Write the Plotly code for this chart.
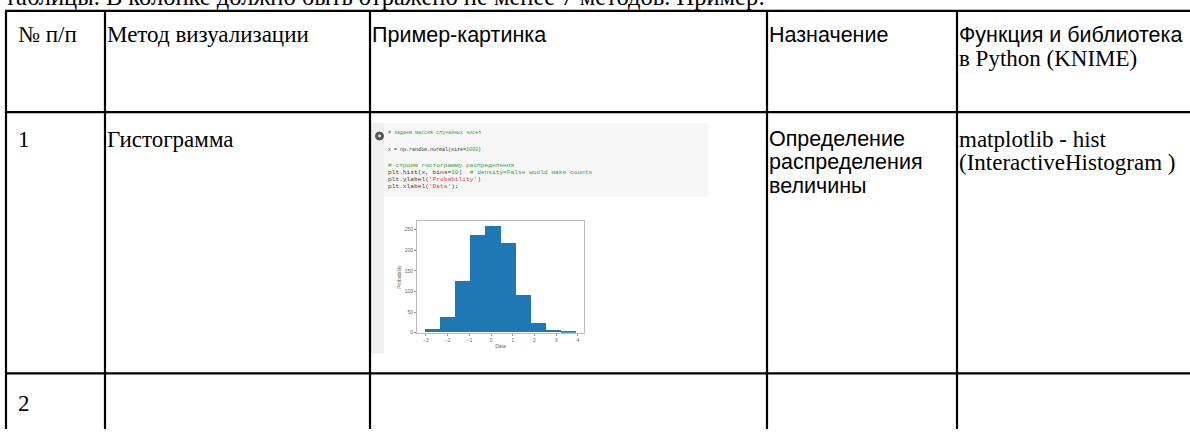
import plotly.graph_objects as go

# ---------------- data ----------------
intro_text = "таблицы. В колонке должно быть отражено не менее 7 методов. Пример:"
# (text, column, line index, font kind)
header_lines = [("№ п/п", 0, 0, "serif"), ("Метод визуализации", 1, 0, "serif"),
                ("Пример-картинка", 2, 0, "sans"), ("Назначение", 3, 0, "sans"),
                ("Функция и библиотека", 4, 0, "sans"), ("в Python (KNIME)", 4, 1, "serif")]
row1_lines = [("1", 0, 0, "serif"), ("Гистограмма", 1, 0, "serif"),
              ("Определение", 3, 0, "sans"), ("распределения", 3, 1, "sans"),
              ("величины", 3, 2, "sans"),
              ("matplotlib - hist", 4, 0, "serif"), ("(InteractiveHistogram )", 4, 1, "serif")]
row2_lines = [("2", 0, 0, "serif")]

# histogram (counts per bin)
bin_edges = [-3.06, -2.36, -1.66, -0.96, -0.26, 0.44, 1.14, 1.84, 2.53, 3.23, 3.93]
bin_counts = [9, 36, 125, 236, 257, 216, 90, 23, 6, 2]
x_ticks = [-3, -2, -1, 0, 1, 2, 3, 4]
y_ticks = [0, 50, 100, 150, 200, 250]

GREEN = "#3f9f3f"
RED = "#c0504d"
code_lines = [
    (f'<span style="color:{GREEN}"># задаем массив случайных чисел</span>', 5, 133),
    (f'x = np.random.normal(size=<span style="color:{GREEN}">1000</span>)', 5, 151),
    (f'<span style="color:{GREEN}"># строим гистограмму распределения</span>', 6.2, 167),
    (f'plt.hist(x, bins=<span style="color:{GREEN}">10</span>)  '
     f'<span style="color:{GREEN}"># density=False would make counts</span>', 6.2, 174),
    (f'plt.ylabel(<span style="color:{RED}">\'Probability\'</span>)', 6.2, 181),
    (f'plt.xlabel(<span style="color:{RED}">\'Data\'</span>);', 6.2, 188),
]

# ---------------- layout constants ----------------
W, H = 1190, 432
col_x = [6, 105, 370, 767, 957, 1200]
row_y = [11, 113, 376, 440]
LINE = 2.2
LINE_STEP = 23.5
FONTS = {"serif": ("Liberation Serif", 23), "sans": ("Liberation Sans", 21.5)}

fig = go.Figure()

shapes = []
for x in col_x:
    shapes.append(dict(type="line", xref="x", yref="y", x0=x, x1=x, y0=row_y[0], y1=row_y[-1],
                       line=dict(color="black", width=LINE)))
for y in row_y:
    shapes.append(dict(type="line", xref="x", yref="y", x0=col_x[0] - 1, x1=col_x[-1], y0=y, y1=y,
                       line=dict(color="black", width=LINE)))

# code screenshot background
shapes.append(dict(type="rect", xref="x", yref="y", x0=371, x1=708, y0=124, y1=198,
                   fillcolor="#f6f6f6", line=dict(width=0), layer="below"))
shapes.append(dict(type="rect", xref="x", yref="y", x0=371, x1=384, y0=124, y1=356,
                   fillcolor="#efefef", line=dict(width=0), layer="below"))
shapes.append(dict(type="circle", xref="x", yref="y", x0=375.5, x1=383.5, y0=133, y1=141,
                   fillcolor="#555555", line=dict(color="#555555", width=1)))
shapes.append(dict(type="circle", xref="x", yref="y", x0=378, x1=381, y0=135.5, y1=138.5,
                   fillcolor="#dddddd", line=dict(width=0)))

annotations = []
annotations.append(dict(xref="x", yref="y", x=3, y=12, xanchor="left", yanchor="bottom",
                        text=intro_text, showarrow=False,
                        font=dict(family="Liberation Serif", size=24.5, color="black")))

def add_lines(lines, first_center):
    for txt, col, li, kind in lines:
        fam, size = FONTS[kind]
        annotations.append(dict(xref="x", yref="y", x=col_x[col] + (10 if col == 0 else 0),
                                y=first_center + LINE_STEP * li, xanchor="left", yanchor="middle",
                                text=txt, showarrow=False,
                                font=dict(family=fam, size=size, color="black")))

add_lines(header_lines, 35)
add_lines(row1_lines, 140)
add_lines(row2_lines, 406)

for t, fs, yy in code_lines:
    annotations.append(dict(xref="x", yref="y", x=386, y=yy, xanchor="left", yanchor="middle",
                            text=t, showarrow=False,
                            font=dict(family="Liberation Mono", size=fs, color="#3a3a3a")))

# histogram bars
centers = [(a + b) / 2 for a, b in zip(bin_edges[:-1], bin_edges[1:])]
widths = [b - a for a, b in zip(bin_edges[:-1], bin_edges[1:])]
fig.add_trace(go.Bar(x=centers, y=bin_counts, width=widths, xaxis="x2", yaxis="y2",
                     marker=dict(color="#1f77b4", line=dict(width=0)), showlegend=False,
                     hoverinfo="skip"))

# invisible trace on page axes
fig.add_trace(go.Scatter(x=[0, W], y=[0, H], mode="markers", marker=dict(opacity=0),
                         showlegend=False, hoverinfo="skip"))

ax_left, ax_right, ax_top, ax_bot = 417, 584, 223, 335
span = bin_edges[-1] - bin_edges[0]
ymax = max(bin_counts) * 1.05

fig.update_layout(
    width=W, height=H, margin=dict(l=0, r=0, t=0, b=0),
    paper_bgcolor="white", plot_bgcolor="rgba(0,0,0,0)",
    xaxis=dict(range=[0, W], domain=[0, 1], visible=False, fixedrange=True),
    yaxis=dict(range=[H, 0], domain=[0, 1], visible=False, fixedrange=True),
    xaxis2=dict(domain=[ax_left / W, ax_right / W], anchor="y2",
                range=[bin_edges[0] - 0.05 * span, bin_edges[-1] + 0.05 * span],
                tickvals=x_ticks, ticks="outside", ticklen=2, tickcolor="#999",
                showline=True, linecolor="#bbbbbb", linewidth=1, mirror=True,
                showgrid=False, zeroline=False,
                tickfont=dict(family="Liberation Sans", size=5, color="#666"),
                title=dict(text="Data", font=dict(family="Liberation Sans", size=5, color="#666"),
                           standoff=2)),
    yaxis2=dict(domain=[1 - ax_bot / H, 1 - ax_top / H], anchor="x2",
                range=[0, ymax], tickvals=y_ticks, ticks="outside", ticklen=2, tickcolor="#999",
                showline=True, linecolor="#bbbbbb", linewidth=1, mirror=True,
                showgrid=False, zeroline=False,
                tickfont=dict(family="Liberation Sans", size=5, color="#666"),
                title=dict(text="Probability", font=dict(family="Liberation Sans", size=5, color="#666"),
                           standoff=2)),
    shapes=shapes, annotations=annotations, bargap=0,
)

fig.write_html("out.html", config={"displayModeBar": False},
               post_script="document.body.style.margin='0px';")
